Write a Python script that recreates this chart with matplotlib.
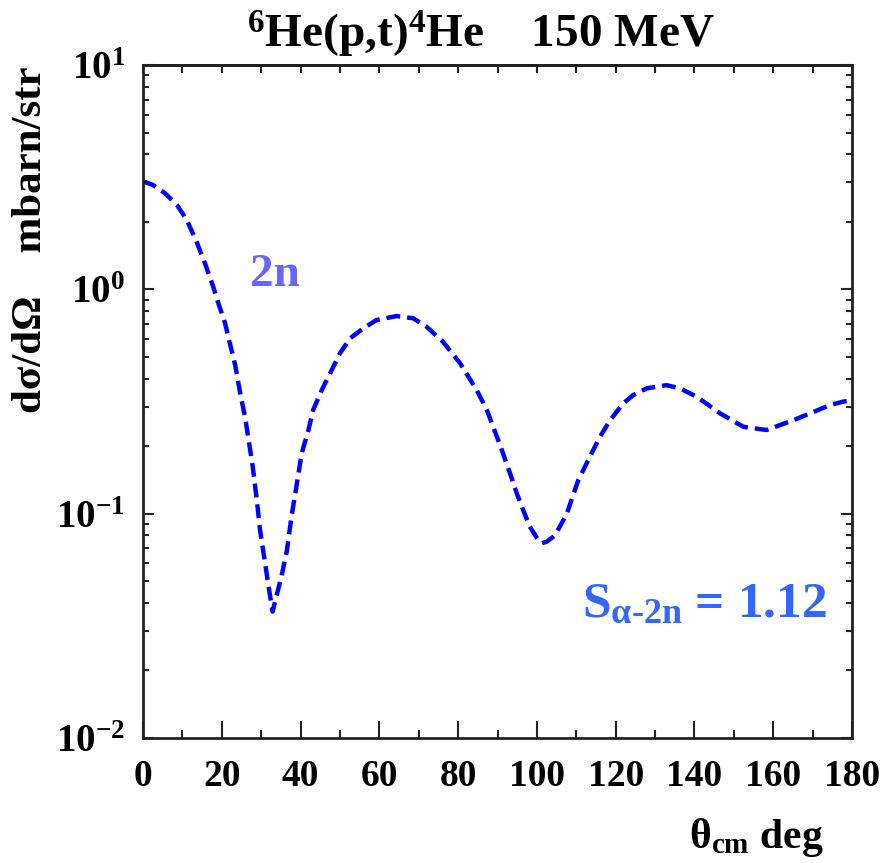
import matplotlib
matplotlib.use("Agg")
import matplotlib.pyplot as plt
from matplotlib.ticker import FixedLocator, FixedFormatter, LogLocator, NullFormatter, MultipleLocator

# ---- data ----
theta = [0, 2.5, 5.6, 8.6, 11.1, 13.6, 15.7, 17.8, 19.0, 20.8, 22.1, 23.4, 24.6,
         25.9, 26.7, 27.9, 28.9, 29.7, 31.0, 32.0, 32.9, 35.2, 36.5, 37.7, 39.0,
         40.3, 42.0, 43.2, 45.4, 47.5, 50.0, 52.6, 55.9, 59.3, 64.4, 68.6, 72.0,
         76.2, 80.5, 84.7, 87.3, 88.9, 91.1, 93.2, 94.9, 96.5, 98.2, 100.0, 101.2,
         102.5, 104.6, 107.6, 110.5, 113.5, 116.0, 118.6, 121.9, 124.5, 127.9,
         132.9, 136.3, 140.6, 146.5, 152.4, 158.3, 165.1, 170.2, 174.4, 177.8, 180]
xsec = [3.03, 2.92, 2.68, 2.38, 2.04, 1.63, 1.31, 1.03, 0.88, 0.71, 0.57, 0.46, 0.35,
        0.27, 0.22, 0.16, 0.115, 0.085, 0.060, 0.046, 0.0366, 0.053, 0.068, 0.097, 0.134,
        0.186, 0.236, 0.29, 0.356, 0.422, 0.519, 0.605, 0.67, 0.73, 0.76, 0.743, 0.681,
        0.583, 0.468, 0.356, 0.29, 0.244, 0.192, 0.151, 0.123, 0.104, 0.0875, 0.078, 0.0738,
        0.075, 0.080, 0.100, 0.141, 0.180, 0.220, 0.261, 0.310, 0.338, 0.362,
        0.374, 0.362, 0.332, 0.280, 0.244, 0.236, 0.261, 0.284, 0.305, 0.316, 0.32]

xticks = [0, 20, 40, 60, 80, 100, 120, 140, 160, 180]
xticklabels = [str(v) for v in xticks]
yticks = [1e-2, 1e-1, 1e0, 1e1]
yticklabels = [r'$10^{-2}$', r'$10^{-1}$', r'$10^{0}$', r'$10^{1}$']

title_text = r'$^{6}$He(p,t)$^{4}$He    150 MeV'
ylabel_text = 'dσ/dΩ    mbarn/str'
xlabel_text = r'θ$_{cm}$ deg'
label_2n = '2n'
label_S = r'S$_{α\text{-}2n}$ = 1.12'

# ---- style ----
plt.rcParams['font.family'] = ['Liberation Serif', 'DejaVu Serif']
plt.rcParams['font.weight'] = 'bold'
plt.rcParams['mathtext.fontset'] = 'custom'
plt.rcParams['mathtext.rm'] = 'Liberation Serif:bold'
plt.rcParams['mathtext.it'] = 'Liberation Serif:bold'
plt.rcParams['mathtext.bf'] = 'Liberation Serif:bold'
plt.rcParams['mathtext.default'] = 'regular'
plt.rcParams['lines.scale_dashes'] = False

W, H = 892, 863
fig = plt.figure(figsize=(W / 100, H / 100), dpi=100)
L, R, T, B = 143, 852, 65, 738
ax = fig.add_axes([L / W, 1 - B / H, (R - L) / W, (B - T) / H])

ax.plot(theta, xsec, color='#0000ff', lw=3.2, dashes=(10, 5), solid_capstyle='butt',
        dash_capstyle='butt')

ax.set_yscale('log')
ax.set_xlim(0, 180)
ax.set_ylim(1e-2, 10)

for s in ax.spines.values():
    s.set_linewidth(2.0)
    s.set_color('#222222')

ax.xaxis.set_major_locator(FixedLocator(xticks))
ax.xaxis.set_major_formatter(FixedFormatter(xticklabels))
ax.xaxis.set_minor_locator(MultipleLocator(10))
ax.yaxis.set_major_locator(FixedLocator(yticks))
ax.yaxis.set_major_formatter(FixedFormatter(yticklabels))
ax.yaxis.set_minor_locator(LogLocator(base=10, subs=range(2, 10)))
ax.yaxis.set_minor_formatter(NullFormatter())

ax.tick_params(axis='x', which='major', direction='in', length=12, width=1.5,
               labelsize=27, pad=15, bottom=True, top=False, color='#222222')
ax.tick_params(axis='x', which='minor', direction='in', length=6, width=1.5,
               bottom=True, top=False, color='#222222')
ax.tick_params(axis='y', which='major', direction='in', length=8, width=1.5,
               labelsize=28, pad=13, left=True, right=True, color='#222222')
ax.tick_params(axis='y', which='minor', direction='in', length=4.5, width=1.5,
               left=True, right=True, color='#222222')

top = ax.secondary_xaxis('top')
top.xaxis.set_major_locator(MultipleLocator(10))
top.xaxis.set_major_formatter(NullFormatter())
top.tick_params(axis='x', which='major', direction='in', length=5.5, width=1.5,
                color='#222222')
top.spines['top'].set_linewidth(2.0)

for lab in ax.get_xticklabels() + ax.get_yticklabels():
    lab.set_fontweight('bold')

fig.text(481 / W, 1 - 48 / H, title_text, ha='center', va='baseline',
         fontsize=34, fontweight='bold')
fig.text(50 / W, 1 - 240 / H, ylabel_text, rotation=90, ha='right', va='center',
         fontsize=31, fontweight='bold')
fig.text(756 / W, 1 - 848 / H, xlabel_text, ha='center', va='baseline',
         fontsize=30, fontweight='bold')

ax.text(250 / W, 1 - 286 / H, label_2n, transform=fig.transFigure, ha='left',
        va='baseline', fontsize=34, fontweight='bold', color='#6666ff')
ax.text(582 / W, 1 - 617 / H, label_S, transform=fig.transFigure, ha='left',
        va='baseline', fontsize=37, fontweight='bold', color='#3366ff')

fig.savefig('out.png', dpi=100)
